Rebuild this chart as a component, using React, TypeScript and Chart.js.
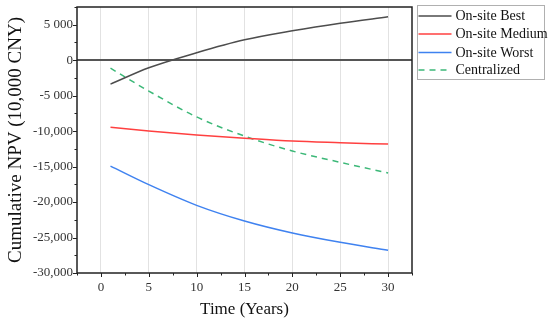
import React, { useEffect, useRef } from "react";
import { Chart, registerables } from "chart.js";

Chart.register(...registerables);

const years = [1, 5, 10, 15, 20, 25, 30];
const onsiteBest = [-3380, -1070, 1050, 2870, 4140, 5210, 6110];
const onsiteMedium = [-9460, -9990, -10530, -10990, -11400, -11630, -11830];
const onsiteWorst = [-14930, -17550, -20460, -22670, -24360, -25680, -26800];
const centralized = [-1130, -4350, -8000, -10700, -12800, -14400, -15900];

const seriesNames = ["On-site Best", "On-site Medium", "On-site Worst", "Centralized"];
const seriesColors = ["#4d4d4d", "#ff4040", "#3f82f0", "#3cb878"];

const yTickLabels: Record<string, string> = {
  "5000": "5 000",
  "0": "0",
  "-5000": "-5 000",
  "-10000": "-10,000",
  "-15000": "-15,000",
  "-20000": "-20,000",
  "-25000": "-25,000",
  "-30000": "-30,000",
};
const xTickLabels = ["0", "5", "10", "15", "20", "25", "30"];

const FONT = "'Liberation Serif', 'Times New Roman', serif";

const framePlugin = {
  id: "frame",
  afterDraw(chart: any) {
    const { ctx, chartArea } = chart;
    const { left, right, top, bottom } = chartArea;
    ctx.save();
    ctx.strokeStyle = "#222";
    ctx.lineWidth = 1.5;
    ctx.strokeRect(left, top, right - left, bottom - top);
    ctx.lineWidth = 1;
    const xs = chart.scales.x;
    const ys = chart.scales.y;
    for (let v = -2.5; v <= 32.5 + 1e-6; v += 2.5) {
      const px = Math.round(xs.getPixelForValue(v)) + 0.5;
      const major = Math.abs(v % 5) < 1e-6;
      ctx.beginPath();
      ctx.moveTo(px, bottom);
      ctx.lineTo(px, bottom + (major ? 4 : 2.5));
      ctx.stroke();
    }
    for (let v = -30000; v <= 7500; v += 2500) {
      const py = Math.round(ys.getPixelForValue(v)) + 0.5;
      const major = Math.abs(v % 5000) < 1e-6;
      ctx.beginPath();
      ctx.moveTo(left, py);
      ctx.lineTo(left - (major ? 4 : 2.5), py);
      ctx.stroke();
    }
    // legend
    const bx = right + 5.5;
    const by = 5.5;
    const bw = 127;
    const bh = 74;
    ctx.fillStyle = "#fff";
    ctx.fillRect(bx, by, bw, bh);
    ctx.strokeStyle = "#b0b0b0";
    ctx.lineWidth = 1;
    ctx.strokeRect(bx, by, bw, bh);
    ctx.font = `14px ${FONT}`;
    ctx.textBaseline = "middle";
    ctx.textAlign = "left";
    const rows = [16, 34, 52.5, 70];
    chart.data.datasets.forEach((ds: any, i: number) => {
      const y = rows[i];
      ctx.strokeStyle = ds.borderColor;
      ctx.lineWidth = 1.5;
      ctx.setLineDash(ds.borderDash || []);
      ctx.beginPath();
      ctx.moveTo(bx + 1, y);
      ctx.lineTo(bx + 34, y);
      ctx.stroke();
      ctx.setLineDash([]);
      ctx.fillStyle = "#111";
      ctx.fillText(ds.label, bx + 38, y + 0.5);
    });
    ctx.restore();
  },
};

export default function App() {
  const ref = useRef<HTMLCanvasElement | null>(null);
  useEffect(() => {
    if (!ref.current) return;
    const allSeries = [onsiteBest, onsiteMedium, onsiteWorst, centralized];
    const chart = new Chart(ref.current, {
      type: "line",
      data: {
        datasets: allSeries.map((vals, i) => ({
          label: seriesNames[i],
          data: years.map((x, j) => ({ x, y: vals[j] })),
          borderColor: seriesColors[i],
          backgroundColor: seriesColors[i],
          borderWidth: 1.5,
          borderDash: i === 3 ? [6, 5] : undefined,
          pointRadius: 0,
          cubicInterpolationMode: "monotone" as const,
          fill: false,
        })),
      },
      options: {
        responsive: false,
        animation: false,
        events: [],
        layout: { padding: { left: 0, top: 7, right: 138, bottom: 0 } },
        plugins: { legend: { display: false }, tooltip: { enabled: false } },
        scales: {
          x: {
            type: "linear",
            min: -2.5,
            max: 32.5,
            afterBuildTicks: (s: any) => {
              s.ticks = s.ticks.filter((t: any) => Math.abs(t.value % 5) < 1e-6 && t.value >= 0 && t.value <= 30);
            },
            afterFit: (s: any) => {
              s.height = 49;
              s.paddingLeft = 0;
              s.paddingRight = 0;
              s.paddingTop = 0;
              s.paddingBottom = 0;
            },
            ticks: {
              stepSize: 2.5,
              autoSkip: false,
              maxRotation: 0,
              padding: 7,
              color: "#333",
              font: { family: FONT, size: 13 },
              callback: (v: any) => {
                const idx = Math.round(Number(v) / 5);
                return xTickLabels[idx] ?? "";
              },
            },
            grid: {
              drawTicks: false,
              lineWidth: 1,
              color: "#e2e2e2",
            },
            border: { display: false },
            title: {
              display: true,
              text: "Time (Years)",
              color: "#111",
              font: { family: FONT, size: 17 },
              padding: { top: 0, bottom: 2 },
            },
          },
          y: {
            type: "linear",
            min: -30000,
            max: 7500,
            afterBuildTicks: (s: any) => {
              s.ticks = s.ticks.filter((t: any) => Math.abs(t.value % 5000) < 1e-6 && t.value <= 5000);
            },
            afterFit: (s: any) => {
              s.width = 77;
              s.paddingTop = 0;
              s.paddingBottom = 0;
              s.paddingLeft = 0;
              s.paddingRight = 0;
            },
            ticks: {
              stepSize: 2500,
              autoSkip: false,
              padding: 4,
              color: "#333",
              font: { family: FONT, size: 13 },
              callback: (v: any) => {
                const key = String(Math.round(Number(v)));
                return yTickLabels[key] ?? "";
              },
            },
            grid: {
              drawTicks: false,
              lineWidth: (c: any) => (c.tick?.value === 0 ? 2 : 1),
              color: (c: any) => (c.tick?.value === 0 ? "#555" : "transparent"),
            },
            border: { display: false },
            title: {
              display: true,
              text: "Cumulative NPV (10,000 CNY)",
              color: "#111",
              font: { family: FONT, size: 19 },
              padding: { top: 5, bottom: 0 },
            },
          },
        },
      },
      plugins: [framePlugin],
    });
    return () => chart.destroy();
  }, []);
  return (
    <div style={{ position: "fixed", left: 0, top: 0, width: 550, height: 322, background: "#fff" }}>
      <canvas ref={ref} width={550} height={322} />
    </div>
  );
}
